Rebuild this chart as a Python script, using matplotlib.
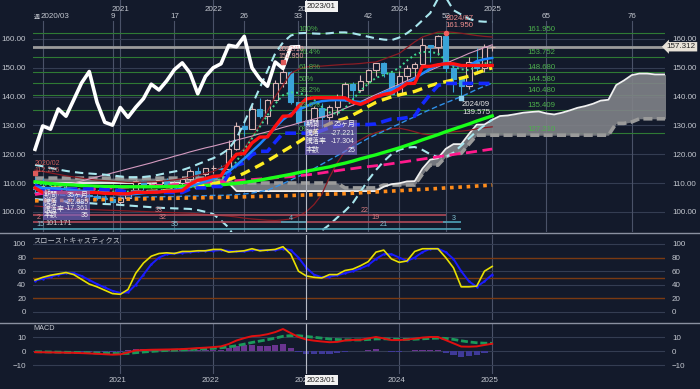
import numpy as np
import matplotlib
matplotlib.use("Agg")
import matplotlib.pyplot as plt
import matplotlib.transforms as mtransforms
from matplotlib.lines import Line2D
from matplotlib.patches import Rectangle

plt.rcParams['font.family'] = ['Liberation Sans', 'Noto Sans CJK JP']

# ---- monthly candles, 2020/02 .. 2025/01 ----
opens = [108.7, 107.9, 107.5, 106.9, 107.8, 107.9, 105.9, 105.9, 105.5, 104.7,
         104.3, 103.3, 104.7, 106.6, 110.7, 109.3, 109.6, 111.1, 109.7, 110.0,
         111.3, 114.0, 113.2, 115.1, 115.1, 115.0, 121.7, 129.8, 128.7, 135.7,
         133.2, 138.9, 144.7, 148.7, 138.0, 131.1, 130.1, 136.2, 132.8, 136.3,
         139.3, 144.3, 142.3, 145.5, 149.4, 151.7, 148.2, 141.0, 147.0, 150.0,
         151.4, 157.8, 157.3, 160.9, 150.0, 146.2, 143.6, 152.0, 149.8, 157.2]
highs = [112.23, 111.7, 109.4, 108.1, 109.9, 108.2, 107.0, 106.5, 106.1, 105.7,
         104.8, 104.9, 106.7, 110.9, 110.9, 110.2, 111.1, 111.7, 110.8, 112.1,
         114.7, 115.5, 115.2, 116.35, 116.3, 125.1, 131.3, 131.3, 137.0, 139.4,
         139.1, 145.9, 151.95, 148.8, 138.2, 134.8, 136.9, 137.9, 137.0, 140.9,
         145.0, 145.1, 147.4, 149.7, 151.7, 151.9, 148.3, 148.8, 150.9, 151.97,
         160.2, 157.99, 161.3, 161.95, 150.9, 146.5, 153.9, 156.75, 158.1, 158.0]
lows = [107.0, 101.17, 106.4, 106.0, 106.1, 104.2, 105.1, 104.0, 104.0, 103.2,
        102.9, 102.6, 104.4, 106.4, 107.5, 108.3, 108.6, 109.1, 108.7, 109.1,
        110.8, 112.5, 112.6, 113.5, 114.4, 114.7, 121.3, 126.4, 128.7, 132.5,
        130.4, 138.8, 143.5, 137.5, 130.6, 127.2, 128.1, 129.6, 130.6, 133.5,
        138.4, 137.2, 141.5, 144.4, 147.3, 146.7, 140.9, 140.8, 145.9, 146.5,
        150.8, 151.9, 154.5, 148.5, 141.7, 139.58, 142.5, 148.0, 148.6, 156.0]
closes = [107.9, 107.5, 106.9, 107.8, 107.9, 105.9, 105.9, 105.5, 104.7, 104.3,
          103.3, 104.7, 106.6, 110.7, 109.3, 109.6, 111.1, 109.7, 110.0, 111.3,
          114.0, 113.2, 115.1, 115.1, 115.0, 121.7, 129.8, 128.7, 135.7, 133.2,
          138.9, 144.7, 148.7, 138.0, 131.1, 130.1, 136.2, 132.8, 136.3, 139.3,
          144.3, 142.3, 145.5, 149.4, 151.7, 148.2, 141.0, 147.0, 150.0, 151.4,
          157.8, 157.3, 160.9, 150.0, 146.2, 143.6, 152.0, 149.8, 157.2, 157.312]
last_price = 157.312

# ---- indicator lines ----
tenkan = [108.3, 106.7, 106.7, 106.7, 106.7, 106.7, 106.7, 106.7, 106.7, 106.4,
          106.4, 106.25, 106.25, 106.75, 106.75, 106.75, 106.85, 107.15, 107.15, 107.35,
          109.55, 110.95, 111.5, 112.3, 112.5, 116.9, 120.0, 120.2, 123.9, 125.95,
          126.0, 129.7, 133.2, 133.3, 136.6, 139.2, 139.6, 139.6, 139.6, 139.6,
          139.6, 138.0, 137.3, 138.45, 139.9, 140.75, 141.25, 142.7, 144.55, 144.6,
          150.5, 150.5, 151.05, 151.4, 151.4, 150.8, 150.8, 150.8, 150.8, 150.8]
kijun = [109.3, 107.9, 107.9, 107.9, 107.9, 107.9, 107.9, 107.9, 107.9, 107.6,
         107.6, 107.4, 106.8, 106.8, 106.8, 106.8, 106.8, 106.7, 106.7, 106.7,
         107.9, 108.3, 108.3, 108.8, 108.8, 113.1, 116.2, 116.95, 119.8, 121.0,
         121.0, 124.25, 127.3, 127.3, 127.3, 127.3, 127.3, 128.2, 129.2, 129.7,
         130.1, 130.3, 130.3, 130.3, 130.5, 131.4, 132.2, 132.3, 132.7, 133.2,
         137.45, 140.75, 143.85, 144.58, 144.58, 144.58, 144.58, 144.58, 144.58, 144.58]
# cloud spans, already shifted 25 bars ahead (85 points)
span_a = [110.0] * 26 + [107.2] * 19 + [108.7, 109.6, 109.9, 110.55, 110.65,
          115.0, 118.1, 118.6, 121.85, 123.5, 123.5, 127.0, 130.25, 130.3, 131.95,
          133.25, 133.45, 133.9, 134.4, 134.65, 134.85, 134.15, 133.8, 134.4, 135.2,
          136.1, 136.7, 137.5, 138.6, 138.9, 144.0, 145.6, 147.45, 148.0, 148.0,
          147.7, 147.7, 147.7, 147.7, 147.7]
span_b = [111.7] * 26 + [110.0] * 14 + [108.3] * 5 + [109.3] * 5 + \
         [113.1, 116.2, 116.2, 119.1, 120.3, 120.3, 123.5] + [126.6] * 18 + \
         [130.7, 130.7, 131.2] + [132.3] * 7
ma_blue = [108.5, 108.3, 108.2, 108.0, 107.8, 107.5, 107.3, 107.0, 106.8, 106.5,
           106.3, 106.0, 106.0, 106.2, 106.5, 106.7, 107.0, 107.3, 107.6, 108.0,
           108.8, 109.6, 110.5, 111.5, 112.6, 114.0, 116.2, 118.5, 121.0, 123.5,
           126.3, 129.3, 132.0, 134.0, 135.5, 136.6, 137.8, 138.4, 138.7, 138.8,
           138.7, 138.4, 138.1, 138.6, 140.0, 141.4, 142.5, 143.6, 144.7, 146.3,
           148.0, 149.7, 151.0, 151.7, 151.0, 150.5, 150.8, 152.3, 153.0, 153.4]
ma_yellow = [108.5, 108.4, 108.3, 108.2, 108.0, 107.9, 107.7, 107.5, 107.3, 107.2,
             107.1, 107.0, 107.0, 107.0, 107.0, 107.1, 107.2, 107.4, 107.6, 107.9,
             108.2, 108.6, 109.1, 109.7, 110.4, 111.2, 112.2, 113.4, 114.8, 116.2,
             117.7, 119.3, 121.0, 122.6, 124.2, 125.9, 127.7, 129.3, 130.6, 131.6,
             132.4, 133.6, 135.0, 136.6, 138.0, 139.0, 139.9, 140.6, 141.2, 141.8,
             142.8, 143.8, 144.6, 145.2, 145.8, 146.4, 147.1, 148.2, 149.1, 150.0]
ma_green = [110.4, 110.1, 109.8, 109.6, 109.4, 109.3, 109.1, 109.0, 108.9, 108.8,
            108.8, 108.7, 108.7, 108.7, 108.7, 108.7, 108.7, 108.8, 108.8, 108.9,
            109.0, 109.1, 109.2, 109.3, 109.4, 109.6, 109.9, 110.2, 110.6, 111.0,
            111.5, 112.0, 112.5, 113.0, 113.6, 114.1, 114.6, 115.1, 115.6, 116.3,
            116.9, 117.6, 118.4, 119.1, 119.8, 120.6, 121.4, 122.2, 123.1, 124.0,
            125.0, 125.9, 126.8, 127.8, 128.7, 129.6, 130.5, 131.5, 132.4, 133.3]
ma_magenta = [106.0, 106.4, 106.8, 107.1, 107.3, 107.5, 107.7, 107.9, 108.0, 108.2,
              108.3, 108.4, 108.6, 108.7, 108.8, 109.0, 109.1, 109.2, 109.4, 109.5,
              109.7, 109.8, 110.0, 110.2, 110.4, 110.6, 110.8, 111.0, 111.2, 111.4,
              111.6, 111.8, 112.0, 112.2, 112.5, 112.8, 113.1, 113.5, 113.9, 114.3,
              114.7, 115.0, 115.4, 115.7, 116.0, 116.3, 116.7, 117.1, 117.5, 117.9,
              118.3, 118.7, 119.1, 119.5, 119.9, 120.3, 120.6, 121.0, 121.4, 121.8]
ma_orange = [103.8, 103.85, 103.9, 103.95, 104.0, 104.05, 104.1, 104.15, 104.2, 104.25,
             104.3, 104.35, 104.4, 104.45, 104.5, 104.55, 104.6, 104.65, 104.7, 104.75,
             104.8, 104.85, 104.9, 104.95, 105.0, 105.1, 105.15, 105.2, 105.3, 105.35,
             105.4, 105.5, 105.55, 105.65, 105.75, 105.85, 105.95, 106.05, 106.15, 106.2,
             106.3, 106.45, 106.6, 106.75, 106.9, 107.05, 107.2, 107.35, 107.5, 107.65,
             107.8, 107.95, 108.1, 108.3, 108.45, 108.6, 108.75, 108.95, 109.1, 109.3]
bb_upper = [116.3, 115.8, 115.2, 114.7, 114.2, 113.8, 113.5, 113.3, 113.1, 112.9,
            112.6, 112.3, 112.0, 112.0, 112.1, 112.4, 112.9, 113.5, 114.0, 114.5,
            115.4, 116.5, 117.6, 118.6, 120.0, 121.8, 125.5, 131.0, 137.0, 143.0,
            149.0, 155.0, 158.8, 161.2, 162.0, 162.1, 161.9, 161.8, 162.0, 162.3,
            162.3, 162.0, 161.4, 160.8, 160.2, 159.8, 159.6, 160.5, 162.0, 164.0,
            166.5, 169.0, 174.0, 174.5, 170.0, 168.5, 167.0, 166.2, 166.0, 166.0]
bb_lower = [104.4, 104.2, 104.0, 103.8, 103.6, 103.4, 103.2, 103.0, 102.8, 102.7,
            102.6, 102.4, 102.2, 102.0, 101.8, 101.6, 101.4, 101.3, 101.2, 101.1,
            101.0, 100.6, 100.0, 99.2, 97.0, 94.5, 90.0, np.nan, np.nan, np.nan,
            np.nan, np.nan, np.nan, np.nan, np.nan, np.nan, 90.0, 93.5, 95.5, 98.0,
            100.3, 103.0, 107.0, 111.0, 114.5, 117.5, 120.0, 121.5, 122.3, 122.5,
            121.5, 120.0, 119.0, 119.0, 120.5, 123.0, 125.5, 128.0, 130.0, 132.0]
band_dotted = [110.0, 109.6, 109.2, 108.8, 108.4, 108.0, 107.8, 107.5, 107.3, 107.1,
               107.0, 107.0, 107.0, 107.1, 107.2, 107.3, 107.5, 107.7, 107.9, 108.0,
               108.5, 109.0, 109.5, 110.3, 111.5, 113.5, 117.5, 121.5, 125.5, 129.5,
               133.5, 137.5, 140.5, 141.5, 141.3, 140.5, 139.0, 136.5, 134.5, 134.0,
               136.0, 139.0, 142.0, 144.5, 146.5, 147.5, 148.5, 150.0, 152.5, 154.5,
               155.5, 155.5, 155.0, 152.5, 150.3, 149.5, 149.2, 150.5, 151.5, 152.0]
env_upper = [114.5, 114.0, 113.5, 113.0, 112.5, 112.1, 111.7, 111.3, 111.0, 110.8,
             110.6, 110.4, 110.2, 110.2, 110.3, 110.4, 110.5, 110.8, 111.1, 111.5,
             112.0, 112.7, 113.4, 114.0, 115.3, 117.0, 119.5, 122.0, 126.0, 130.0,
             135.0, 140.0, 144.0, 148.0, 149.5, 150.3, 150.5, 150.6, 150.8, 151.0,
             151.2, 151.3, 151.5, 151.8, 152.0, 153.0, 154.0, 155.0, 157.0, 159.0,
             160.7, 161.6, 162.4, 162.5, 162.3, 162.0, 161.6, 161.2, 160.9, 160.7]
env_lower = [102.0, 101.8, 101.6, 101.4, 101.2, 101.0, 100.9, 100.8, 100.7, 100.6,
             100.5, 100.4, 100.3, 100.2, 100.1, 100.0, 99.9, 99.8, 99.7, 99.6,
             99.5, 99.3, 99.1, 98.9, 98.7, 98.5, 98.2, 97.8, 97.5, 97.3,
             97.1, 97.0, 97.2, 97.5, 98.5, 100.0, 102.5, 106.0, 112.0, 117.0,
             121.0, 123.5, 125.0, 126.5, 127.5, 128.3, 128.8, 129.0, 128.5, 127.8,
             127.0, 126.7, 126.7, 127.5, 127.8, 128.0, 128.3, 128.8, 129.2, 129.5]
blue_dashed = [106.5, 106.3, 106.1, 105.9, 105.7, 105.5, 105.4, 105.3, 105.2, 105.1,
               105.0, 105.0, 105.0, 105.1, 105.1, 105.2, 105.2, 105.3, 105.3, 105.4,
               105.5, 105.5, 105.6, 105.7, 105.7, 105.8, 106.0, 106.2, 106.5, 107.0,
               107.5, 108.6, 109.8, 111.0, 112.3, 113.5, 115.0, 116.5, 118.0, 119.5,
               121.0, 122.5, 124.0, 125.5, 126.8, 128.0, 129.3, 130.5, 131.8, 133.0,
               134.3, 135.5, 136.7, 137.8, 138.9, 140.0, 141.2, 142.5, 143.6, 144.7]
pink_line = [106.5, 107.2, 107.9, 108.6, 109.3, 110.0, 110.7, 111.4, 112.1, 112.8,
             113.5, 114.2, 114.9, 115.6, 116.3, 117.0, 117.8, 118.5, 119.3, 120.0,
             120.8, 121.5, 122.2, 122.8, 123.5, 124.2, 124.9, 125.6, 126.3, 127.1,
             127.8, 128.5, 129.3, 130.0, 130.8, 131.5, 132.2, 132.9, 133.6, 134.7,
             135.9, 137.0, 138.2, 139.5, 140.7, 141.9, 143.1, 144.3, 145.5, 146.7,
             147.9, 149.1, 150.3, 151.5, 152.7, 153.8, 155.0, 156.0, 157.0, 158.0]

fib_levels = [161.950, 153.752, 148.680, 144.580, 140.480, 135.409, 127.210]
fib_pcts = ['100%', '76.4%', '61.8%', '50%', '38.2%', '23.6%', '0%']

# slow stochastics
stoch_k = [47, 51, 54, 56, 58, 55, 48, 41, 37, 32, 27, 26, 33, 57, 72, 82, 86, 87, 86, 89,
           89, 90, 90, 92, 92, 88, 89, 90, 93, 90, 91, 92, 96, 85, 60, 53, 51, 50, 55, 55,
           61, 63, 68, 74, 88, 91, 78, 73, 75, 89, 93, 93, 93, 80, 65, 37, 37, 38, 60, 67]
stoch_d = [46, 49, 52, 55, 57, 57, 53, 47, 41, 36, 31, 28, 29, 40, 55, 70, 80, 85, 86, 87,
           88, 89, 90, 90, 91, 90, 89, 89, 91, 91, 91, 91, 93, 91, 80, 65, 55, 51, 52, 54,
           57, 60, 64, 69, 78, 85, 85, 80, 75, 80, 88, 93, 93, 88, 78, 60, 45, 37, 45, 55]

# MACD
macd = [-0.8, -0.9, -1.0, -1.1, -1.2, -1.3, -1.5, -1.7, -2.0, -2.3,
        -2.6, -2.4, -1.0, 0.4, 0.7, 0.9, 1.0, 1.1, 1.2, 1.4,
        1.7, 2.1, 2.4, 2.8, 3.3, 5.0, 7.5, 9.2, 10.6, 11.0,
        12.0, 13.5, 15.7, 12.8, 10.0, 8.2, 7.4, 6.8, 6.3, 6.5,
        7.5, 7.9, 8.0, 9.0, 10.0, 9.0, 7.8, 7.8, 8.2, 8.8,
        9.6, 10.0, 10.0, 7.8, 5.5, 3.2, 3.1, 3.3, 4.3, 5.2]
signal = [-0.5, -0.6, -0.7, -0.8, -0.9, -1.0, -1.1, -1.2, -1.4, -1.5,
          -1.7, -1.8, -1.7, -1.2, -0.7, -0.3, 0.1, 0.4, 0.6, 0.8,
          1.0, 1.3, 1.6, 1.9, 2.3, 2.9, 3.8, 4.9, 6.1, 7.1,
          8.1, 9.2, 10.5, 11.0, 10.9, 10.4, 9.8, 9.2, 8.6, 8.2,
          8.0, 7.9, 7.9, 8.2, 8.6, 8.7, 8.5, 8.3, 8.3, 8.4,
          8.7, 9.0, 9.2, 9.0, 8.3, 7.3, 6.5, 5.9, 5.6, 5.5]

# counter lines near the bottom of the price panel
count_levels = [99.06, 96.6, 96.3, 96.3, 94.0]
count_start = [0, 0, 32, 53, 0]
count_end = [53, 53, 35, 55, 55]
count_colors = ['#b04a58', '#b04a58', '#4fa3b8', '#4fa3b8', '#4fa3b8']
count_labels = [(16, 99.06, '33', '#d07a80'), (42.6, 99.06, '22', '#d07a80'),
                (0.2, 96.6, '2', '#d07a80'), (16.5, 96.6, '32', '#d07a80'),
                (44, 96.6, '19', '#d07a80'), (33, 96.3, '4', '#7fc0d0'),
                (54, 96.3, '3', '#7fc0d0'), (0.2, 94.0, '15', '#7fc0d0'),
                (18, 94.0, '35', '#7fc0d0'), (45, 94.0, '21', '#7fc0d0')]

top_num_idx = [10, 18, 27, 34, 43, 53, 66, 77]
top_num_lbl = ['9', '17', '26', '33', '42', '52', '65', '76']
year_idx = [11, 23, 35, 47, 59]
year_lbl = ['2021', '2022', '2023', '2024', '2025']
cursor_idx = 35

# ---------------------------------------------------------------
BG = '#131a2b'
GRID = '#343d52'
TXT = '#c3c7cf'
FS = 5.8

n = len(closes)
x = np.arange(n)
xlim = (-0.26, 81.3)

fig = plt.figure(figsize=(7, 3.89), dpi=100, facecolor=BG)
ax = fig.add_axes([33 / 700, 1 - 232 / 389, 632 / 700, 232 / 389], facecolor=BG)
ax_st = fig.add_axes([33 / 700, 1 - 320 / 389, 632 / 700, 85 / 389], facecolor=BG)
ax_m = fig.add_axes([33 / 700, 1 - 374 / 389, 632 / 700, 51 / 389], facecolor=BG)

for a in (ax, ax_st, ax_m):
    a.set_xlim(*xlim)
    for s in a.spines.values():
        s.set_visible(False)
    a.tick_params(axis='x', which='both', bottom=False, top=False,
                  labelbottom=False)
    a.tick_params(axis='y', which='both', left=False, right=False,
                  labelleft=True, labelright=True, labelsize=FS,
                  labelcolor=TXT, pad=1.5)
    for yi in year_idx:
        a.axvline(yi, color='#4a5268', lw=0.8, zorder=0)
    a.axvline(cursor_idx, color='#b8bcc6', lw=0.8, zorder=8)

# ---------------- price panel ----------------
ax.set_ylim(92.99, 173.54)
ax.set_yticks(np.arange(100, 161, 10))
ax.yaxis.set_major_formatter(matplotlib.ticker.FormatStrFormatter('%.2f'))
for v in np.arange(100, 161, 10):
    ax.axhline(v, color=GRID, lw=0.8, zorder=0)
for xi in top_num_idx + [1]:
    ax.axvline(xi, ymax=0.91, color='#4a5268', lw=0.8, zorder=0)
for lv in fib_levels:
    ax.axhline(lv, color='#2f7a34', lw=0.8, zorder=1)
ax.axhline(last_price, color='#9c9c9c', lw=2.0, zorder=1)

tr_x = mtransforms.blended_transform_factory(ax.transData, ax.transAxes)
for xi, lb in zip(year_idx, year_lbl):
    ax.text(xi, 0.957, lb, transform=tr_x, ha='center', va='center',
            fontsize=FS, color=TXT)
for xi, lb in zip(top_num_idx, top_num_lbl):
    ax.text(xi, 0.927, lb, transform=tr_x, ha='center', va='center',
            fontsize=FS, color=TXT)
ax.text(-0.1, 0.927, '週', transform=tr_x, ha='left', va='center',
        fontsize=4.2, color=TXT)
ax.text(0.7, 0.927, '2020/03', transform=tr_x, ha='left', va='center',
        fontsize=FS, color=TXT)
ax.text(cursor_idx + 0.1, 0.972, '2023/01', transform=tr_x, ha='left',
        va='center', fontsize=FS, color='#222222', zorder=20,
        bbox=dict(boxstyle='square,pad=0.2', fc='#f2f2f2', ec='none'))

# ichimoku cloud
dx = np.arange(len(span_a))
ax.fill_between(dx, span_a, span_b, color='#808288', alpha=0.9, lw=0, zorder=2)
ax.plot(dx, span_b, color='#9a9a9a', lw=2.6, ls=(0, (2.5, 1.2)), zorder=3)
ax.plot(dx, span_a, color='#f0f0f0', lw=1.3, zorder=3)

# candles
up = [c >= o for o, c in zip(opens, closes)]
for i in range(n):
    col = '#d8b4b4' if up[i] else '#3aa3d8'
    ax.vlines(x[i], lows[i], highs[i], color=col, lw=0.8, zorder=4)
    lo, hi = min(opens[i], closes[i]), max(opens[i], closes[i])
    ax.add_patch(Rectangle((x[i] - 0.33, lo), 0.66, max(hi - lo, 0.15),
                           fc=BG if up[i] else col, ec=col, lw=0.8, zorder=4))

# lines
ax.plot(x, env_upper, color='#8a1c24', lw=0.9, zorder=5)
ax.plot(x, env_lower, color='#8a1c24', lw=0.9, zorder=5)
ax.plot(x, pink_line, color='#d49ac0', lw=0.8, zorder=5)
ax.plot(x, blue_dashed, color='#2f8fe8', lw=1.0, ls=(0, (4, 2)), zorder=5)
ax.plot(x, bb_upper, color='#a8e6ee', lw=1.5, ls=(0, (4, 2.5)), zorder=5)
ax.plot(x, bb_lower, color='#a8e6ee', lw=1.5, ls=(0, (4, 2.5)), zorder=5)
ax.plot(x, band_dotted, color='#40d890', lw=1.4, ls=(0, (1, 1.5)), zorder=5)
ax.plot(x, ma_orange, color='#ff8c1a', lw=2.6, ls=(0, (1, 1.3)), zorder=5)
ax.plot(x, ma_magenta, color='#ff1a8c', lw=2.0, ls=(0, (4, 2)), zorder=5)
ax.plot(x, ma_green, color='#19ff19', lw=2.4, zorder=6)
ax.plot(x, ma_yellow, color='#ffee22', lw=2.4, ls=(0, (3, 1.8)), zorder=6)
ax.plot(x, kijun, color='#1428ff', lw=2.6, ls=(0, (3, 1.5)), zorder=6)
ax.plot(x, ma_blue, color='#1c86ff', lw=1.8, zorder=6)
ax.plot(x, tenkan, color='#ff1010', lw=2.4, zorder=7)

# lagging span (close shifted 25 bars back)
lag = closes[25:]
ax.plot(np.arange(len(lag)), lag, color='white', lw=2.6, zorder=9)

# counters
for lv, s0, s1, c in zip(count_levels, count_start, count_end, count_colors):
    ax.hlines(lv, s0 - 0.3, s1, color=c, lw=1.2, zorder=6)
for xi, lv, t, c in count_labels:
    ax.text(xi, lv + 0.3, t, ha='left' if xi < 1 else 'center', va='bottom',
            fontsize=5.2, color=c, zorder=10)
ax.text(1.4, 95.9, '101.171', ha='left', va='center', fontsize=5.2,
        color='#c8c8c8', zorder=10)

# fibonacci labels
for lv, p in zip(fib_levels, fib_pcts):
    ax.text(34, lv + 0.3, p, ha='left', va='bottom', fontsize=5.6,
            color='#4cb04c', zorder=10)
    ax.text(63.6, lv + 0.3, f'{lv:.3f}', ha='left', va='bottom', fontsize=5.6,
            color='#4cb04c', zorder=10)

# extremes
ax.plot(0, highs[0] + 1.2, 's', ms=2.5, color='#e05a5a', zorder=10)
ax.text(-0.1, 113.3, '2020/02\n112.226', ha='left', va='bottom', fontsize=5.0,
        color='#c85a5a', linespacing=1.0, zorder=10)
ax.plot(32, highs[32], 's', ms=2.5, color='#e05a5a', zorder=10)
ax.text(31.4, 152.8, '2022/10\n151.950', ha='left', va='bottom', fontsize=5.0,
        color='#e8a0a0', linespacing=1.0, zorder=10)
ax.plot(53, highs[53], 'o', ms=3, color='#f06060', zorder=10)
ax.text(53.0, 163.6, '2024/07\n161.950', ha='left', va='bottom', fontsize=5.6,
        color='#f09090', linespacing=1.0, zorder=10)
ax.plot(55, lows[55], 's', ms=2.5, color='#8fd0f0', zorder=10)
ax.text(55.1, 138.3, '2024/09\n139.575', ha='left', va='top', fontsize=5.6,
        color='#e6e6e6', linespacing=1.05, zorder=10)

# range boxes
boxes = [((1.03, 97.2), 6.1, 10.0, ['期間', '騰落', '騰落率', '本数'],
          ['35ヶ月', '-22.985', '-17.361', '35']),
         ((34.8, 119.7), 6.7, 12.2, ['期間', '騰落', '騰落率', '本数'],
          ['25ヶ月', '-27.221', '-17.304', '25'])]
for (bx, by), bw, bh, keys, vals in boxes:
    ax.add_patch(Rectangle((bx, by), bw, bh, fc='#7a68c8', alpha=0.65,
                           ec='none', zorder=11))
    for k, (kk, vv) in enumerate(zip(keys, vals)):
        yy = by + bh * (0.86 - 0.24 * k)
        ax.text(bx + 0.15, yy, kk, ha='left', va='center', fontsize=5.0,
                color='#f0f0f0', zorder=12)
        ax.text(bx + bw - 0.2, yy, vv, ha='right', va='center', fontsize=5.0,
                color='#f0f0f0', zorder=12)

tr_y = mtransforms.blended_transform_factory(ax.transAxes, ax.transData)
ax.text(1.003, last_price, '157.312', transform=tr_y, ha='left', va='center',
        fontsize=FS, color='#222222', zorder=20,
        bbox=dict(boxstyle='larrow,pad=0.15', fc='#e8e2d8', ec='none'))

# ---------------- stochastics ----------------
ax_st.set_ylim(-11.8, 113.2)
ax_st.set_yticks([0, 20, 40, 60, 80, 100])
for v in [0, 40, 60, 100]:
    ax_st.axhline(v, color=GRID, lw=0.8, zorder=0)
for v in [20, 50, 80]:
    ax_st.axhline(v, color='#7a3a12', lw=1.0, zorder=1)
ax_st.plot(x, stoch_d, color='#1a1aff', lw=1.4, marker='.', ms=1.5, zorder=3)
ax_st.plot(x, stoch_k, color='#e8e000', lw=1.2, zorder=4)
ax_st.text(0.0, 1.0 - 6 / 85, 'スローストキャスティクス', transform=ax_st.transAxes,
           ha='left', va='center', fontsize=5.2, color=TXT)

# ---------------- MACD ----------------
ax_m.set_ylim(-16.4, 20.0)
ax_m.set_yticks([-10, 0, 10])
for v in [-10, 0, 10]:
    ax_m.axhline(v, color=GRID, lw=0.8, zorder=0)
hist = np.array(macd) - np.array(signal)
ax_m.bar(x, hist, width=0.8, color=np.where(hist >= 0, '#6a3590', '#3f3a98'),
         zorder=2)
ax_m.plot(x, signal, color='#1a9a5a', lw=2.0, ls=(0, (2.5, 1)), zorder=3)
ax_m.plot(x, macd, color='#e01010', lw=1.4, zorder=4)
ax_m.text(0.0, 1.0 - 5 / 51, 'MACD', transform=ax_m.transAxes, ha='left',
          va='center', fontsize=5.2, color=TXT)

tr_mx = mtransforms.blended_transform_factory(ax_m.transData, ax_m.transAxes)
for xi, lb in zip(year_idx, year_lbl):
    ax_m.text(xi - 0.4, -0.12, lb, transform=tr_mx, ha='center', va='center',
              fontsize=FS, color=TXT, clip_on=False)
ax_m.text(cursor_idx + 0.1, -0.12, '2023/01', transform=tr_mx, ha='left',
          va='center', fontsize=FS, color='#222222', zorder=20, clip_on=False,
          bbox=dict(boxstyle='square,pad=0.2', fc='#f2f2f2', ec='none'))

# panel separators
for yp in (233, 323):
    fig.add_artist(Line2D([0, 1], [1 - yp / 389, 1 - yp / 389],
                          transform=fig.transFigure, color='#8a90a0', lw=1.0))

fig.savefig('out.png', dpi=100, facecolor=BG)
